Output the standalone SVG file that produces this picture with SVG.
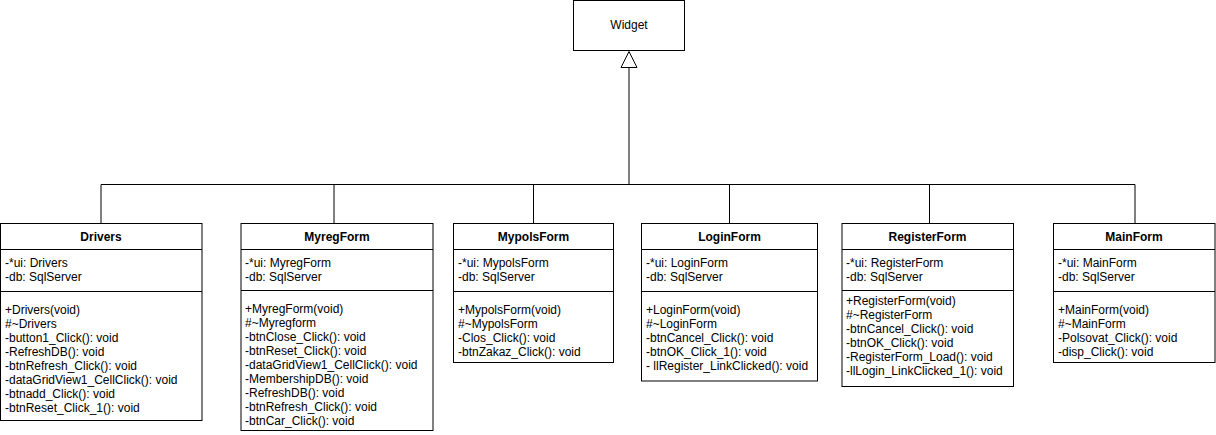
<svg xmlns="http://www.w3.org/2000/svg" width="1216" height="435" viewBox="0 0 1216 435">
<style>
.box{fill:#fff;stroke:#000;stroke-width:1}
.sep{stroke:#000;stroke-width:1;fill:none}
.t{font-family:"Liberation Sans",Arial,sans-serif;font-size:12px;fill:#000}
.h{font-family:"Liberation Sans",Arial,sans-serif;font-size:12px;font-weight:bold;fill:#000;text-anchor:middle}
.c{stroke:#000;stroke-width:1;fill:none}
</style>
<rect width="1216" height="435" fill="#fff"/>
<g id="connectors">
<path class="c" d="M629 67.5V184.5M101 184.5H1135M101 184.5V223.5M334 184.5V223.5M533.5 184.5V223.5M729.5 184.5V223.5M929.5 184.5V223.5M1135 184.5V223.5"/>
<polygon points="629,51.5 621,67.5 637,67.5" fill="#fff" stroke="#000" stroke-width="1"/>
</g>
<g id="widget">
<rect class="box" x="573.5" y="0.5" width="111" height="50"/>
<text class="t" x="629" y="29" text-anchor="middle">Widget</text>
</g>
<g id="drivers">
<rect class="box" x="0.5" y="223.5" width="201.5" height="197"/>
<path class="sep" d="M0.5 249.5H202M0.5 291.5H202"/>
<text class="h" x="101" y="241">Drivers</text>
<text class="t" x="5"><tspan x="5" y="267">-*ui: Drivers</tspan><tspan x="5" y="281">-db: SqlServer</tspan></text>
<text class="t" x="5"><tspan x="5" y="314">+Drivers(void)</tspan><tspan x="5" y="328">#~Drivers</tspan><tspan x="5" y="342">-button1_Click(): void</tspan><tspan x="5" y="356">-RefreshDB(): void</tspan><tspan x="5" y="370">-btnRefresh_Click(): void</tspan><tspan x="5" y="384">-dataGridView1_CellClick(): void</tspan><tspan x="5" y="398">-btnadd_Click(): void</tspan><tspan x="5" y="412">-btnReset_Click_1(): void</tspan></text>
</g>
<g id="myregform">
<rect class="box" x="241" y="223.5" width="192" height="207"/>
<path class="sep" d="M241 249.5H433M241 290.5H433"/>
<text class="h" x="337" y="241">MyregForm</text>
<text class="t"><tspan x="245" y="267">-*ui: MyregForm</tspan><tspan x="245" y="281">-db: SqlServer</tspan></text>
<text class="t"><tspan x="245" y="312.5">+MyregForm(void)</tspan><tspan x="245" y="326.5">#~Myregform</tspan><tspan x="245" y="340.5">-btnClose_Click(): void</tspan><tspan x="245" y="354.5">-btnReset_Click(): void</tspan><tspan x="245" y="368.5">-dataGridView1_CellClick(): void</tspan><tspan x="245" y="382.5">-MembershipDB(): void</tspan><tspan x="245" y="396.5">-RefreshDB(): void</tspan><tspan x="245" y="410.5">-btnRefresh_Click(): void</tspan><tspan x="245" y="424.5">-btnCar_Click(): void</tspan></text>
</g>
<g id="mypolsform">
<rect class="box" x="453.5" y="223.5" width="160" height="139"/>
<path class="sep" d="M453.5 249.5H613.5M453.5 291.5H613.5"/>
<text class="h" x="533.5" y="241">MypolsForm</text>
<text class="t"><tspan x="458" y="267">-*ui: MypolsForm</tspan><tspan x="458" y="281">-db: SqlServer</tspan></text>
<text class="t"><tspan x="458" y="313.5">+MypolsForm(void)</tspan><tspan x="458" y="327.5">#~MypolsForm</tspan><tspan x="458" y="341.5">-Clos_Click(): void</tspan><tspan x="458" y="355.5">-btnZakaz_Click(): void</tspan></text>
</g>
<g id="loginform">
<rect class="box" x="641.5" y="223.5" width="176" height="157.5"/>
<path class="sep" d="M641.5 249.5H817.5M641.5 291.5H817.5"/>
<text class="h" x="729.5" y="241">LoginForm</text>
<text class="t"><tspan x="646" y="267">-*ui: LoginForm</tspan><tspan x="646" y="281">-db: SqlServer</tspan></text>
<text class="t"><tspan x="646" y="313.5">+LoginForm(void)</tspan><tspan x="646" y="327.5">#~LoginForm</tspan><tspan x="646" y="341.5">-btnCancel_Click(): void</tspan><tspan x="646" y="355.5">-btnOK_Click_1(): void</tspan><tspan x="646" y="369.5">- llRegister_LinkClicked(): void</tspan></text>
</g>
<g id="registerform">
<rect class="box" x="842" y="223.5" width="171.5" height="163"/>
<path class="sep" d="M842 249.5H1013.5M842 290.5H1013.5"/>
<text class="h" x="927.5" y="241">RegisterForm</text>
<text class="t"><tspan x="846" y="267">-*ui: RegisterForm</tspan><tspan x="846" y="281">-db: SqlServer</tspan></text>
<text class="t"><tspan x="846" y="305">+RegisterForm(void)</tspan><tspan x="846" y="319">#~RegisterForm</tspan><tspan x="846" y="333">-btnCancel_Click(): void</tspan><tspan x="846" y="347">-btnOK_Click(): void</tspan><tspan x="846" y="361">-RegisterForm_Load(): void</tspan><tspan x="846" y="375">-llLogin_LinkClicked_1(): void</tspan></text>
</g>
<g id="mainform">
<rect class="box" x="1053.5" y="223.5" width="161.5" height="139"/>
<path class="sep" d="M1053.5 249.5H1215M1053.5 291.5H1215"/>
<text class="h" x="1134" y="241">MainForm</text>
<text class="t"><tspan x="1058" y="267">-*ui: MainForm</tspan><tspan x="1058" y="281">-db: SqlServer</tspan></text>
<text class="t"><tspan x="1058" y="313.5">+MainForm(void)</tspan><tspan x="1058" y="327.5">#~MainForm</tspan><tspan x="1058" y="341.5">-Polsovat_Click(): void</tspan><tspan x="1058" y="355.5">-disp_Click(): void</tspan></text>
</g>
</svg>
